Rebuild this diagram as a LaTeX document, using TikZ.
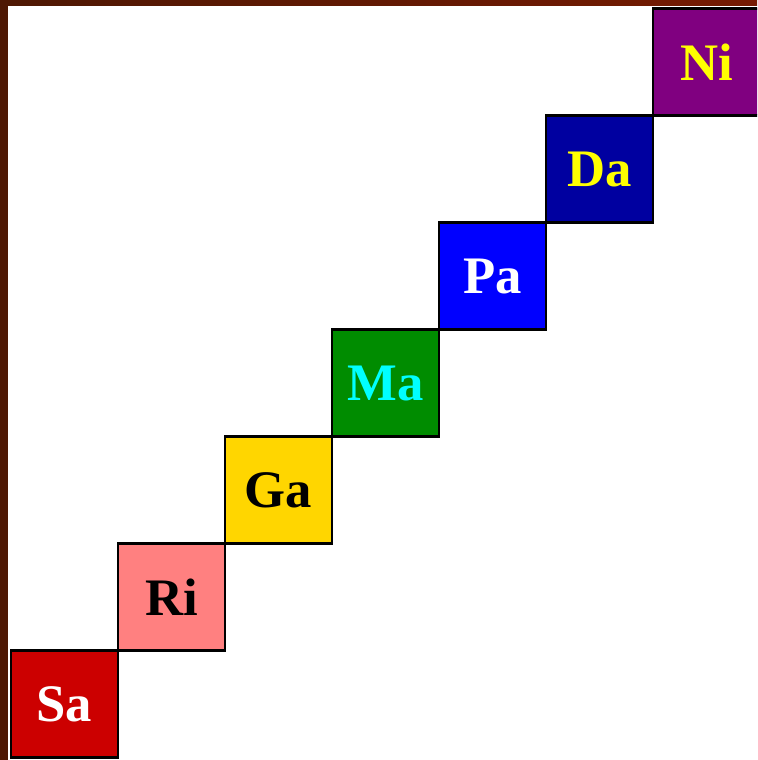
\documentclass[tikz,border=0pt]{standalone}
\usepackage{fontspec}
\setmainfont{Liberation Serif}
\usetikzlibrary{positioning}
\definecolor{frame}{RGB}{78,24,4}
\definecolor{framered}{RGB}{118,26,2}
\definecolor{saRed}{RGB}{204,0,0}
\definecolor{riPink}{RGB}{255,128,128}
\definecolor{gaGold}{RGB}{255,214,0}
\definecolor{maGreen}{RGB}{0,140,0}
\definecolor{maCyan}{RGB}{0,255,255}
\definecolor{paBlue}{RGB}{0,0,255}
\definecolor{daNavy}{RGB}{0,0,160}
\definecolor{niPurple}{RGB}{128,0,128}
\definecolor{noteYellow}{RGB}{255,255,0}
\tikzset{
  note/.style={draw=black, line width=1.7pt, minimum size=2.14cm, outer sep=0pt,
    inner sep=0pt, font=\fontsize{30}{30}\selectfont\bfseries}
}

\begin{document}
\begin{tikzpicture}[scale=1 ]
        % page and frame
        \useasboundingbox (0, 0) rectangle (15.14, 15.2);
        \clip (0, 0) rectangle (15.14, 15.2);
        \fill[white] (0, 0) rectangle (15.14, 15.2);
        \shade[left color=frame, right color=framered] (0, 15.08) rectangle (15.14, 15.2);
        \fill[frame] (0, 0) rectangle (0.16, 15.2);

        % the seven notes, climbing up to the right
        \node[note, fill=saRed, text=white, anchor=south west] (sa) at (0.22, 0.05) {Sa};
        \node[note, fill=riPink, text=black, above right=0pt of sa] (ri) {Ri};
        \node[note, fill=gaGold, text=black, above right=0pt of ri] (ga) {Ga};
        \node[note, fill=maGreen, text=maCyan, above right=0pt of ga] (ma) {Ma};
        \node[note, fill=paBlue, text=white, above right=0pt of ma] (pa) {Pa};
        \node[note, fill=daNavy, text=noteYellow, above right=0pt of pa] (da) {Da};
        \node[note, fill=niPurple, text=noteYellow, above right=0pt of da] (ni) {Ni};
    \end{tikzpicture}
\end{document}
